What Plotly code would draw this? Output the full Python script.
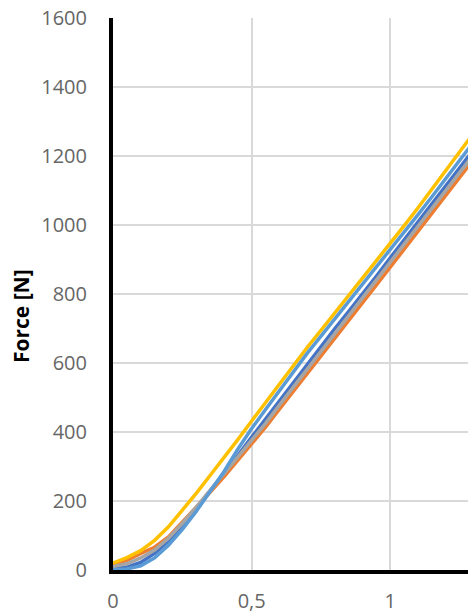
import plotly.graph_objects as go

# Displacement samples shared by all test runs
displacement = [0.00, 0.05, 0.10, 0.15, 0.20, 0.25, 0.30, 0.35, 0.40, 0.45,
                0.50, 0.55, 0.60, 0.65, 0.70, 0.75, 0.80, 0.85, 0.90, 0.95,
                1.00, 1.05, 1.10, 1.15, 1.20, 1.25, 1.30]

# Measured force [N] per specimen
force_1 = [5, 8, 22, 48, 85, 128, 178, 228, 280, 332,
           385, 438, 492, 545, 598, 648, 700, 750, 800, 852,
           905, 958, 1010, 1062, 1114, 1166, 1218]
force_2 = [14, 28, 48, 66, 96, 138, 180, 225, 270, 318,
           365, 414, 466, 518, 570, 622, 673, 724, 775, 826,
           878, 930, 982, 1034, 1086, 1138, 1190]
force_3 = [10, 18, 35, 58, 92, 135, 182, 230, 278, 326,
           375, 425, 478, 530, 582, 634, 686, 737, 788, 840,
           892, 944, 996, 1048, 1100, 1152, 1204]
force_4 = [20, 36, 56, 86, 125, 172, 222, 274, 325, 378,
           432, 486, 540, 594, 645, 695, 745, 795, 845, 896,
           947, 998, 1050, 1104, 1158, 1212, 1266]
force_5 = [0, 3, 12, 35, 72, 118, 170, 228, 285, 350,
           410, 465, 520, 575, 628, 678, 728, 778, 828, 878,
           928, 978, 1030, 1082, 1135, 1188, 1240]

series = [force_1, force_2, force_3, force_4, force_5]
colors = ["#4472C4", "#ED7D31", "#A5A5A5", "#FFC000", "#5B9BD5"]

y_ticks = [0, 200, 400, 600, 800, 1000, 1200, 1400, 1600]
x_ticks = [0, 0.5, 1]
x_tick_text = ["0", "0,5", "1"]

fig = go.Figure()
for f, c in zip(series, colors):
    fig.add_trace(go.Scatter(x=displacement, y=f, mode="lines",
                             line=dict(color=c, width=3.5),
                             showlegend=False, hoverinfo="skip"))

tick_font = dict(family="Open Sans", size=20, color="#666666")

fig.update_layout(
    width=468, height=615,
    margin=dict(l=113, r=0, t=18, b=45),
    paper_bgcolor="white", plot_bgcolor="white",
    xaxis=dict(range=[0, 1.28], tickvals=x_ticks, ticktext=x_tick_text,
               showgrid=True, gridcolor="#D9D9D9", gridwidth=1.5,
               zeroline=False, showline=True, linecolor="black", linewidth=4,
               ticks="", tickfont=tick_font, ticklabelstandoff=10),
    yaxis=dict(range=[0, 1600], tickvals=y_ticks,
               showgrid=True, gridcolor="#D9D9D9", gridwidth=1.5,
               zeroline=False, showline=True, linecolor="black", linewidth=4,
               ticks="", tickfont=tick_font, ticklabelstandoff=18),
    annotations=[dict(text="<b>Force [N]</b>", textangle=-90,
                      xref="paper", yref="paper", x=0, y=0.46,
                      xanchor="center", yanchor="middle", xshift=-92,
                      showarrow=False,
                      font=dict(family="Open Sans", size=21, color="black"))],
)

fig.write_html("out.html")
